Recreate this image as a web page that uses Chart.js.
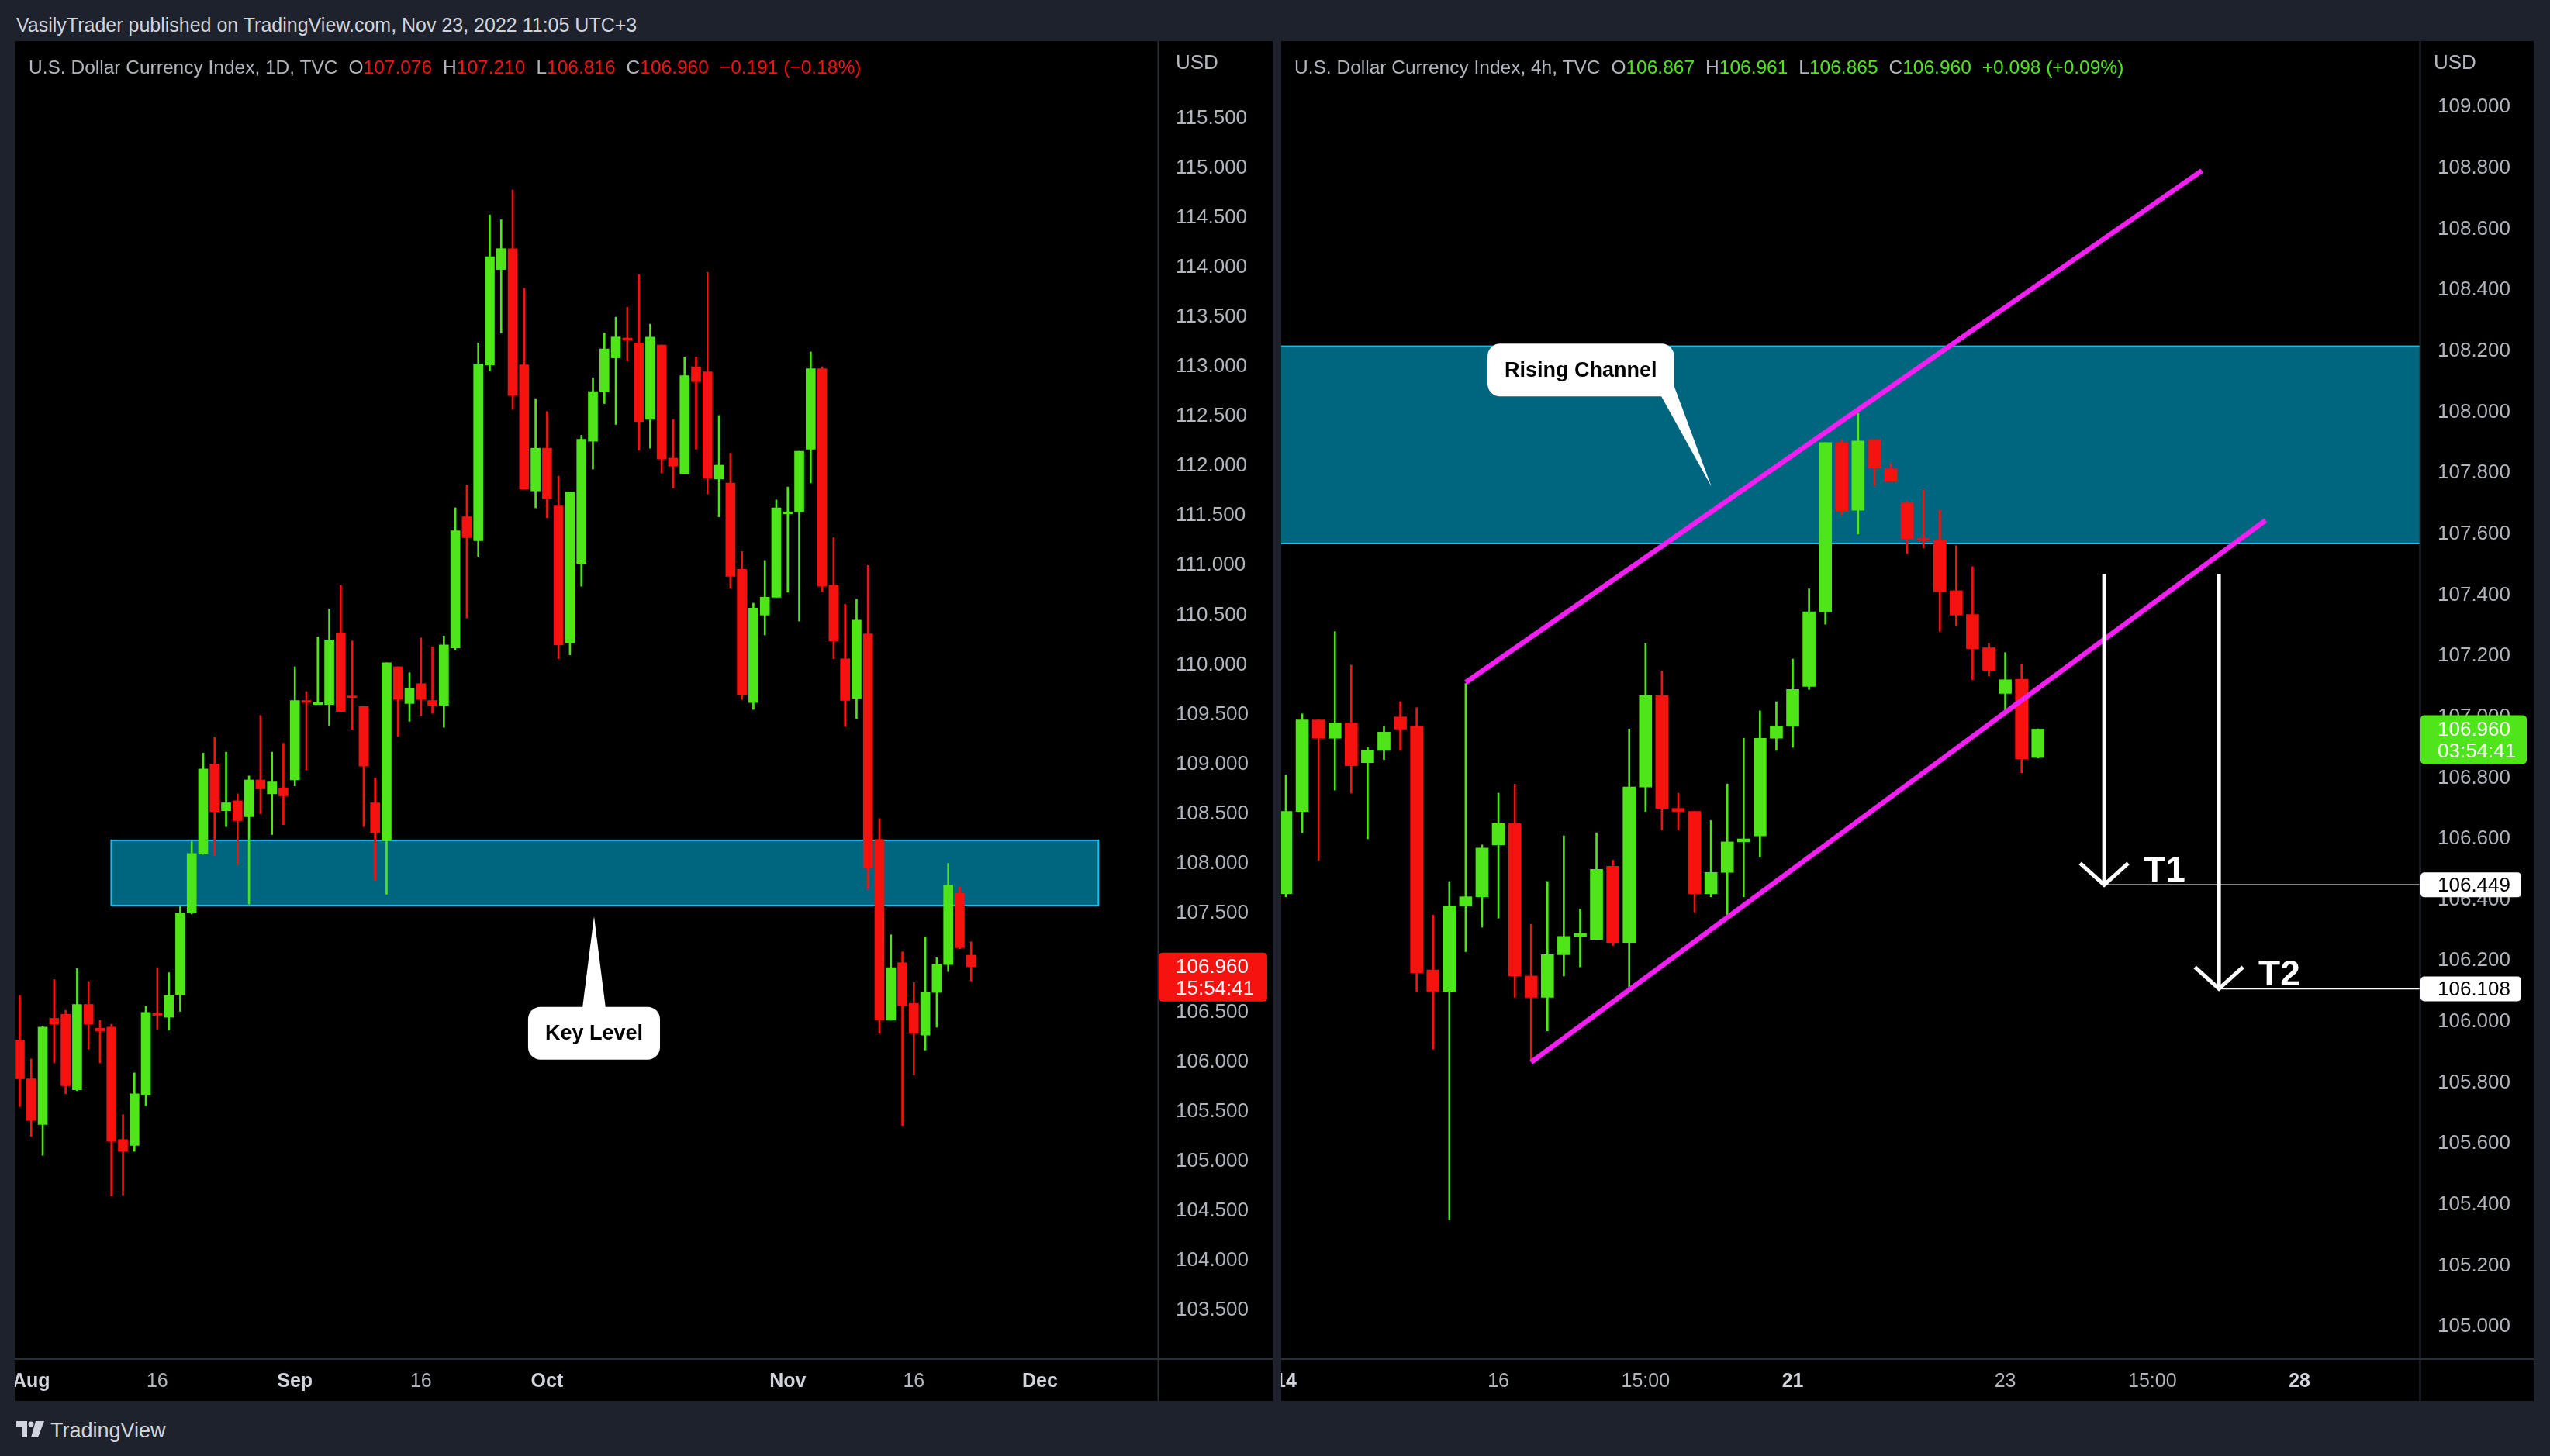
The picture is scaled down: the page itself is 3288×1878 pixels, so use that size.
<!DOCTYPE html>
<html>
<head>
<meta charset="utf-8">
<title>DXY 1D / 4h</title>
<script src="https://cdn.jsdelivr.net/npm/chart.js"></script>
<style>
  html, body { margin: 0; padding: 0; }
  body { width: 3288px; height: 1878px; background: #1e222d; position: relative; overflow: hidden;
         font-family: "Liberation Sans", Arial, sans-serif; }
  .txt { position: absolute; white-space: nowrap; line-height: 1; }
  .panel { position: absolute; background: #000; }
  .panel canvas { position: absolute; left: 0; top: 0; }
  .hdr { font-size: 24.5px; color: #b2b5be; }
  .hdr .k { margin-left: 14px; }
  .dn { color: #f5120f; }
  .up { color: #4fe619; }
</style>
</head>
<body>
<div class="txt" style="left:21px;top:20px;font-size:25px;color:#d1d4dc">VasilyTrader published on TradingView.com, Nov 23, 2022 11:05 UTC+3</div>

<div class="panel" style="left:19px;top:53px;width:1622px;height:1754px"><canvas id="day" width="1622" height="1754"></canvas></div>
<div class="panel" style="left:1652px;top:53px;width:1615px;height:1754px"><canvas id="h4" width="1615" height="1754"></canvas></div>

<div class="txt hdr" style="left:37px;top:75px">U.S. Dollar Currency Index, 1D, TVC<span class="k">O</span><span class="dn">107.076</span><span class="k">H</span><span class="dn">107.210</span><span class="k">L</span><span class="dn">106.816</span><span class="k">C</span><span class="dn">106.960</span><span class="k dn">&minus;0.191 (&minus;0.18%)</span></div>
<div class="txt hdr" style="left:1669px;top:75px">U.S. Dollar Currency Index, 4h, TVC<span class="k">O</span><span class="up">106.867</span><span class="k">H</span><span class="up">106.961</span><span class="k">L</span><span class="up">106.865</span><span class="k">C</span><span class="up">106.960</span><span class="k up">+0.098 (+0.09%)</span></div>
<div class="txt" style="left:1516px;top:67px;font-size:26px;color:#b2b5be">USD</div>
<div class="txt" style="left:3138px;top:67px;font-size:26px;color:#b2b5be">USD</div>

<svg style="position:absolute;left:21px;top:1833px" width="38" height="21" viewBox="0 0 38 21">
  <path d="M0 0 H14 V21 H7 V7 H0 Z" fill="#d1d4dc"/>
  <circle cx="19" cy="4" r="3.5" fill="#d1d4dc"/>
  <path d="M25 0 H36 L28 21 H19 Z" fill="#d1d4dc"/>
</svg>
<div class="txt" style="left:65px;top:1832px;font-size:27px;color:#d1d4dc">TradingView</div>

<script>
// ---------- daily panel data (TVC:DXY, 1D) ----------
const dayDates = ['Jul 29','Aug 1','Aug 2','Aug 3','Aug 4','Aug 5','Aug 8','Aug 9','Aug 10','Aug 11',
  'Aug 12','Aug 15','Aug 16','Aug 17','Aug 18','Aug 19','Aug 22','Aug 23','Aug 24','Aug 25',
  'Aug 26','Aug 29','Aug 30','Aug 31','Sep 1','Sep 2','Sep 5','Sep 6','Sep 7','Sep 8',
  'Sep 9','Sep 12','Sep 13','Sep 14','Sep 15','Sep 16','Sep 19','Sep 20','Sep 21','Sep 22',
  'Sep 23','Sep 26','Sep 27','Sep 28','Sep 29','Sep 30','Oct 3','Oct 4','Oct 5','Oct 6',
  'Oct 7','Oct 10','Oct 11','Oct 12','Oct 13','Oct 14','Oct 17','Oct 18','Oct 19','Oct 20',
  'Oct 21','Oct 24','Oct 25','Oct 26','Oct 27','Oct 28','Oct 31','Nov 1','Nov 2','Nov 3',
  'Nov 4','Nov 7','Nov 8','Nov 9','Nov 10','Nov 11','Nov 14','Nov 15','Nov 16','Nov 17',
  'Nov 18','Nov 21','Nov 22','Nov 23'];
const dayOpen = [106.22,105.83,105.37,106.44,106.48,105.72,106.58,106.34,106.35,105.22,
  105.16,105.67,106.49,106.45,106.68,107.50,108.10,109.00,108.53,108.63,
  108.47,108.84,108.70,108.76,108.84,109.64,109.60,109.60,110.32,109.68,
  109.58,108.61,108.23,109.98,109.61,109.81,109.64,109.59,110.17,111.49,
  111.25,113.02,113.98,114.19,113.02,111.75,112.18,111.60,110.22,111.02,
  112.25,112.75,113.09,113.29,113.24,112.47,113.22,112.08,111.92,113.00,
  112.95,111.87,111.83,110.96,109.62,110.50,110.68,111.52,111.54,112.17,
  112.98,110.80,110.06,109.66,110.31,108.24,106.42,107.00,106.59,106.27,
  106.70,106.98,107.70,107.076];
const dayHigh = [106.67,106.03,106.36,106.83,106.52,106.94,106.81,106.42,106.38,105.47,
  105.89,106.56,106.95,106.90,107.57,108.22,109.11,109.27,109.12,108.70,
  108.88,109.49,109.12,109.21,109.98,109.73,110.28,110.56,110.80,110.24,
  109.58,108.86,110.02,109.98,109.92,110.27,110.18,110.29,111.58,111.81,
  113.24,114.53,114.48,114.78,113.79,112.68,112.55,111.90,111.74,112.31,
  112.89,113.34,113.50,113.60,113.93,113.43,113.22,112.47,113.10,113.10,
  113.95,112.51,112.13,111.14,110.62,111.05,111.66,111.79,112.15,113.15,
  113.00,111.28,110.61,110.66,111.00,108.45,107.28,107.11,106.80,107.26,
  107.05,108.00,107.76,107.210];
const dayLow = [105.55,105.25,105.06,105.99,105.68,105.71,106.13,105.99,104.65,104.66,
  105.10,105.56,106.33,106.32,106.51,107.49,108.09,108.08,108.37,107.99,
  107.59,108.50,108.29,108.39,108.78,108.94,109.60,109.39,109.53,109.35,
  108.37,107.83,107.69,109.28,109.43,109.49,109.51,109.37,110.15,110.47,
  111.09,112.96,113.34,112.57,111.77,111.58,111.48,110.06,110.10,110.79,
  111.97,112.63,112.42,113.06,112.16,112.18,111.93,111.78,111.92,112.17,
  111.72,111.49,110.77,109.65,109.55,110.30,110.68,110.73,110.44,111.83,
  110.74,110.06,109.38,109.46,107.74,106.29,106.42,105.36,105.87,106.12,
  106.35,106.91,107.14,106.816];
const dayClose = [105.83,105.41,106.35,106.38,105.76,106.58,106.38,106.31,105.20,105.10,
  105.68,106.50,106.47,106.67,107.50,108.10,108.95,108.52,108.61,108.43,
  108.84,108.75,108.82,108.68,109.64,109.62,109.62,110.25,109.53,109.67,
  108.98,108.31,110.02,109.65,109.76,109.65,109.59,110.20,111.35,111.28,
  113.03,114.11,114.19,112.71,111.77,112.18,111.67,110.20,111.74,112.27,
  112.75,113.18,113.30,113.27,112.45,113.30,112.07,112.00,112.91,112.85,
  111.88,112.01,110.89,109.70,110.57,110.68,111.58,111.54,112.15,112.98,
  110.79,110.24,109.64,110.45,107.95,106.42,106.95,106.57,106.29,106.70,
  106.98,107.78,107.151,106.960];
const dayTickIdx  = [1, 12, 24, 35, 46, 67, 78, 89];
const dayTickText = ['Aug', '16', 'Sep', '16', 'Oct', 'Nov', '16', 'Dec'];
const dayTickBold = [true, false, true, false, true, true, false, true];
const dayPriceTicks = [103.5,104,104.5,105,105.5,106,106.5,107,107.5,108,108.5,109,109.5,
  110,110.5,111,111.5,112,112.5,113,113.5,114,114.5,115,115.5];

// ---------- 4h panel data (TVC:DXY, 4h) ----------
const h4Times = ['14 01:00','14 03:00','14 07:00','14 11:00','14 15:00','14 19:00','14 23:00',
  '15 03:00','15 07:00','15 11:00','15 15:00','15 19:00','15 23:00',
  '16 03:00','16 07:00','16 11:00','16 15:00','16 19:00','16 23:00',
  '17 03:00','17 07:00','17 11:00','17 15:00','17 19:00','17 23:00',
  '18 03:00','18 07:00','18 11:00','18 15:00','18 19:00','18 23:00',
  '21 01:00','21 03:00','21 07:00','21 11:00','21 15:00','21 19:00','21 23:00',
  '22 03:00','22 07:00','22 11:00','22 15:00','22 19:00','22 23:00',
  '23 03:00','23 07:00','23 11:00'];
const h4Open = [106.42,106.69,106.99,106.93,106.98,106.85,106.89,107.00,106.97,106.17,
  106.10,106.38,106.41,106.58,106.65,106.15,106.08,106.22,106.28,106.27,
  106.51,106.26,106.77,107.07,106.70,106.69,106.42,106.49,106.59,106.61,
  106.93,106.97,107.10,107.345,107.90,107.678,107.91,107.814,107.702,107.585,
  107.58,107.414,107.336,107.227,107.077,107.124,106.867];
const h4High = [106.81,107.01,106.99,107.28,107.17,106.90,106.97,107.05,107.03,106.35,
  106.46,107.11,106.58,106.75,106.78,106.32,106.46,106.61,106.37,106.62,
  106.53,106.96,107.24,107.15,106.75,106.69,106.66,106.78,106.93,107.02,
  107.05,107.19,107.42,107.90,107.91,107.996,107.91,107.832,107.707,107.746,
  107.678,107.562,107.493,107.241,107.211,107.174,106.961];
const h4Low = [106.41,106.62,106.53,106.76,106.75,106.60,106.86,106.89,106.10,105.91,
  105.35,106.23,106.31,106.34,106.08,105.87,105.97,106.15,106.18,106.27,
  106.25,106.10,106.69,106.63,106.63,106.36,106.41,106.34,106.41,106.54,
  106.89,106.90,107.09,107.304,107.662,107.60,107.759,107.773,107.536,107.554,
  107.281,107.298,107.122,107.134,107.015,106.817,106.865];
const h4Close = [106.69,106.99,106.93,106.98,106.84,106.89,106.95,106.96,106.16,106.10,
  106.38,106.41,106.57,106.65,106.15,106.08,106.22,106.28,106.29,106.50,
  106.26,106.77,107.07,106.70,106.69,106.42,106.49,106.59,106.60,106.93,
  106.97,107.09,107.345,107.90,107.675,107.905,107.816,107.773,107.584,107.580,
  107.411,107.334,107.224,107.152,107.122,106.862,106.960];
const h4TickIdx  = [0, 13, 22, 31, 44, 53, 62];
const h4TickText = ['14', '16', '15:00', '21', '23', '15:00', '28'];
const h4TickBold = [true, false, false, true, false, false, true];
const h4PriceTicks = [105,105.2,105.4,105.6,105.8,106,106.2,106.4,106.6,106.8,107,
  107.2,107.4,107.6,107.8,108,108.2,108.4,108.6,108.8,109];

// drawings (bar index, price)
const dayZone = { x0: 7.98, x1: 94.1, top: 108.232, bottom: 107.576 };
const dayNote = { text: 'Key Level', x: 50.1, y: 106.29, tipX: 50.1, tipY: 107.467 };
const h4Zone = { x0: -2, x1: 72, top: 108.216, bottom: 107.569 };
const h4Channel = [
  { x0: 11, y0: 107.113, x1: 56.03, y1: 108.792 },
  { x0: 15, y0: 105.867, x1: 59.92, y1: 107.645 }
];
const h4Note = { text: 'Rising Channel', x: 18.04, y: 108.138, tipX: 26.03, tipY: 107.755 };
const h4Targets = [
  { label: 'T1', x: 50.05, from: 107.47, to: 106.449 },
  { label: 'T2', x: 57.07, from: 107.47, to: 106.108 }
];

const GREEN = '#4fe619', RED = '#f5120f', MAGENTA = '#f21ef2';
const ZONE_FILL = '#006680', ZONE_LINE = '#12c2ee';
const AXIS_TXT = '#b2b5be', SEP = '#2a2e39';
const FONT = '"Liberation Sans", Arial, sans-serif';
Chart.defaults.font.family = FONT;

function rr(ctx, x, y, w, h, r) {
  ctx.beginPath();
  ctx.moveTo(x + r, y);
  ctx.lineTo(x + w - r, y); ctx.arcTo(x + w, y, x + w, y + r, r);
  ctx.lineTo(x + w, y + h - r); ctx.arcTo(x + w, y + h, x + w - r, y + h, r);
  ctx.lineTo(x + r, y + h); ctx.arcTo(x, y + h, x, y + h - r, r);
  ctx.lineTo(x, y + r); ctx.arcTo(x, y, x + r, y, r);
  ctx.closePath();
}

function callout(ctx, X, Y, note, side) {
  ctx.font = 'bold 27px ' + FONT;
  const cx = X(note.x), cy = Y(note.y);
  const w = ctx.measureText(note.text).width + 44, h = 68;
  const x = cx - w / 2, y = cy - h / 2;
  const tx = X(note.tipX), ty = Y(note.tipY);
  ctx.fillStyle = '#fff';
  rr(ctx, x, y, w, h, 16); ctx.fill();
  ctx.beginPath();
  if (side === 'top') {
    ctx.moveTo(cx - 15, y + 2); ctx.lineTo(tx, ty); ctx.lineTo(cx + 15, y + 2);
  } else {
    ctx.moveTo(x + w - 17, y + h - 1); ctx.lineTo(tx, ty); ctx.lineTo(x + w - 1, y + h - 16);
  }
  ctx.closePath(); ctx.fill();
  ctx.fillStyle = '#000'; ctx.textAlign = 'center'; ctx.textBaseline = 'middle';
  ctx.fillText(note.text, cx, cy + 1);
}

function axisTag(ctx, area, y, bg, fg, lines, w, above, h) {
  ctx.fillStyle = bg;
  rr(ctx, area.right + 1, y - above, w, h, 5); ctx.fill();
  ctx.fillStyle = fg; ctx.font = '26px ' + FONT;
  ctx.textAlign = 'left'; ctx.textBaseline = 'middle';
  ctx.fillText(lines[0], area.right + 23, y + 1);
  if (lines[1]) ctx.fillText(lines[1], area.right + 23, y + 29);
}

function buildPanel(id, s) {
  const ix = s.open.map((_, i) => i);
  const col = ix.map(i => s.close[i] >= s.open[i] ? GREEN : RED);
  const datasets = [
    { label: 'body', data: ix.map(i => ({ x: i, y: [s.open[i], s.close[i]] })), backgroundColor: col,
      grouped: false, categoryPercentage: 1, barPercentage: 1, maxBarThickness: s.bodyW, minBarLength: 2, order: 1 },
    { label: 'wick', data: ix.map(i => ({ x: i, y: [s.low[i], s.high[i]] })), backgroundColor: col,
      grouped: false, categoryPercentage: 1, barPercentage: 1, maxBarThickness: 2, order: 2 }
  ];
  (s.lines || []).forEach(l => datasets.push({
    type: 'line', data: [{ x: l.x0, y: l.y0 }, { x: l.x1, y: l.y1 }],
    borderColor: MAGENTA, borderWidth: 6.5, pointRadius: 0, order: 0
  }));

  const drawings = {
    id: 'drawings',
    beforeDatasetsDraw(chart) {
      const { ctx, chartArea: a, scales: { x, y } } = chart;
      const z = s.zone;
      ctx.save();
      ctx.beginPath(); ctx.rect(a.left, a.top, a.right - a.left, a.bottom - a.top); ctx.clip();
      const x0 = x.getPixelForValue(z.x0), x1 = x.getPixelForValue(z.x1);
      const y0 = y.getPixelForValue(z.top), y1 = y.getPixelForValue(z.bottom);
      ctx.fillStyle = ZONE_FILL; ctx.fillRect(x0, y0, x1 - x0, y1 - y0);
      ctx.strokeStyle = ZONE_LINE; ctx.lineWidth = 2; ctx.strokeRect(x0, y0, x1 - x0, y1 - y0);
      ctx.restore();
    },
    afterDatasetsDraw(chart) {
      const { ctx, chartArea: a, scales: { x, y } } = chart;
      const X = v => x.getPixelForValue(v), Y = v => y.getPixelForValue(v);
      ctx.save();
      callout(ctx, X, Y, s.note, s.noteSide);
      (s.targets || []).forEach(t => {
        const px = X(t.x), yt = Y(t.from), yb = Y(t.to);
        ctx.strokeStyle = '#fff'; ctx.lineWidth = 5; ctx.lineJoin = 'miter';
        ctx.beginPath(); ctx.moveTo(px, yt); ctx.lineTo(px, yb); ctx.stroke();
        ctx.beginPath(); ctx.moveTo(px - 31, yb - 28); ctx.lineTo(px, yb); ctx.lineTo(px + 31, yb - 28); ctx.stroke();
        ctx.lineWidth = 1.5;
        ctx.beginPath(); ctx.moveTo(px, yb); ctx.lineTo(a.right, yb); ctx.stroke();
        ctx.fillStyle = '#fff'; ctx.font = 'bold 46px ' + FONT;
        ctx.textAlign = 'left'; ctx.textBaseline = 'alphabetic';
        ctx.fillText(t.label, px + 51, yb - 4);
      });
      ctx.restore();
    },
    afterDraw(chart) {
      const { ctx, chartArea: a, scales: { y }, width, height } = chart;
      ctx.save();
      ctx.strokeStyle = SEP; ctx.lineWidth = 2;
      ctx.beginPath(); ctx.moveTo(a.right + 0.5, 0); ctx.lineTo(a.right + 0.5, height); ctx.stroke();
      ctx.beginPath(); ctx.moveTo(0, a.bottom + 1); ctx.lineTo(width, a.bottom + 1); ctx.stroke();
      (s.targets || []).forEach(t => {
        axisTag(ctx, a, y.getPixelForValue(t.to), '#fff', '#000', [t.to.toFixed(3)], 130, 16, 32);
      });
      const last = s.close[s.close.length - 1];
      const up = last >= s.open[s.open.length - 1];
      axisTag(ctx, a, y.getPixelForValue(last), up ? GREEN : RED, '#fff',
        [last.toFixed(3), s.timer], s.tagW, 18, 63);
      ctx.restore();
    }
  };

  return new Chart(document.getElementById(id), {
    type: 'bar',
    data: { datasets },
    options: {
      responsive: false, animation: false, events: [],
      layout: { padding: 0 },
      plugins: { legend: { display: false }, tooltip: { enabled: false } },
      scales: {
        x: {
          type: 'linear', min: s.xMin, max: s.xMax, offset: false,
          grid: { display: false, drawTicks: false, offset: false }, border: { display: false },
          afterBuildTicks: sc => { sc.ticks = s.tickIdx.map(v => ({ value: v })); },
          afterFit: sc => { sc.height = 55; sc.paddingLeft = 0; sc.paddingRight = 0; },
          ticks: {
            autoSkip: false, maxRotation: 0, minRotation: 0, padding: 15,
            color: c => (c.tick && s.tickBold[s.tickIdx.indexOf(c.tick.value)]) ? '#d1d4dc' : AXIS_TXT,
            font: c => ({ size: 25, weight: (c.tick && s.tickBold[s.tickIdx.indexOf(c.tick.value)]) ? 'bold' : 'normal' }),
            callback: v => s.tickText[s.tickIdx.indexOf(v)]
          }
        },
        y: {
          position: 'right', min: s.yMin, max: s.yMax, beginAtZero: false,
          grid: { display: false, drawTicks: false }, border: { display: false },
          afterBuildTicks: sc => { sc.ticks = s.priceTicks.map(v => ({ value: v })); },
          afterFit: sc => { sc.width = s.axisW; sc.paddingTop = 0; sc.paddingBottom = 0; },
          ticks: { padding: 23, crossAlign: 'near', color: AXIS_TXT, font: { size: 26 },
                   callback: v => v.toFixed(3) }
        }
      }
    },
    plugins: [drawings]
  });
}

buildPanel('day', {
  labels: dayDates, open: dayOpen, high: dayHigh, low: dayLow, close: dayClose,
  tickIdx: dayTickIdx, tickText: dayTickText, tickBold: dayTickBold, priceTicks: dayPriceTicks,
  xMin: -0.44, xMax: 99.29, yMin: 103.016, yMax: 116.28, axisW: 148, bodyW: 12,
  zone: dayZone, note: dayNote, noteSide: 'top', timer: '15:54:41', tagW: 140
});

buildPanel('h4', {
  labels: h4Times, open: h4Open, high: h4High, low: h4Low, close: h4Close,
  tickIdx: h4TickIdx, tickText: h4TickText, tickBold: h4TickBold, priceTicks: h4PriceTicks,
  xMin: -0.285, xMax: 69.35, yMin: 104.896, yMax: 109.217, axisW: 147, bodyW: 16,
  zone: h4Zone, lines: h4Channel, note: h4Note, noteSide: 'bottom', targets: h4Targets,
  timer: '03:54:41', tagW: 137
});
</script>
</body>
</html>
